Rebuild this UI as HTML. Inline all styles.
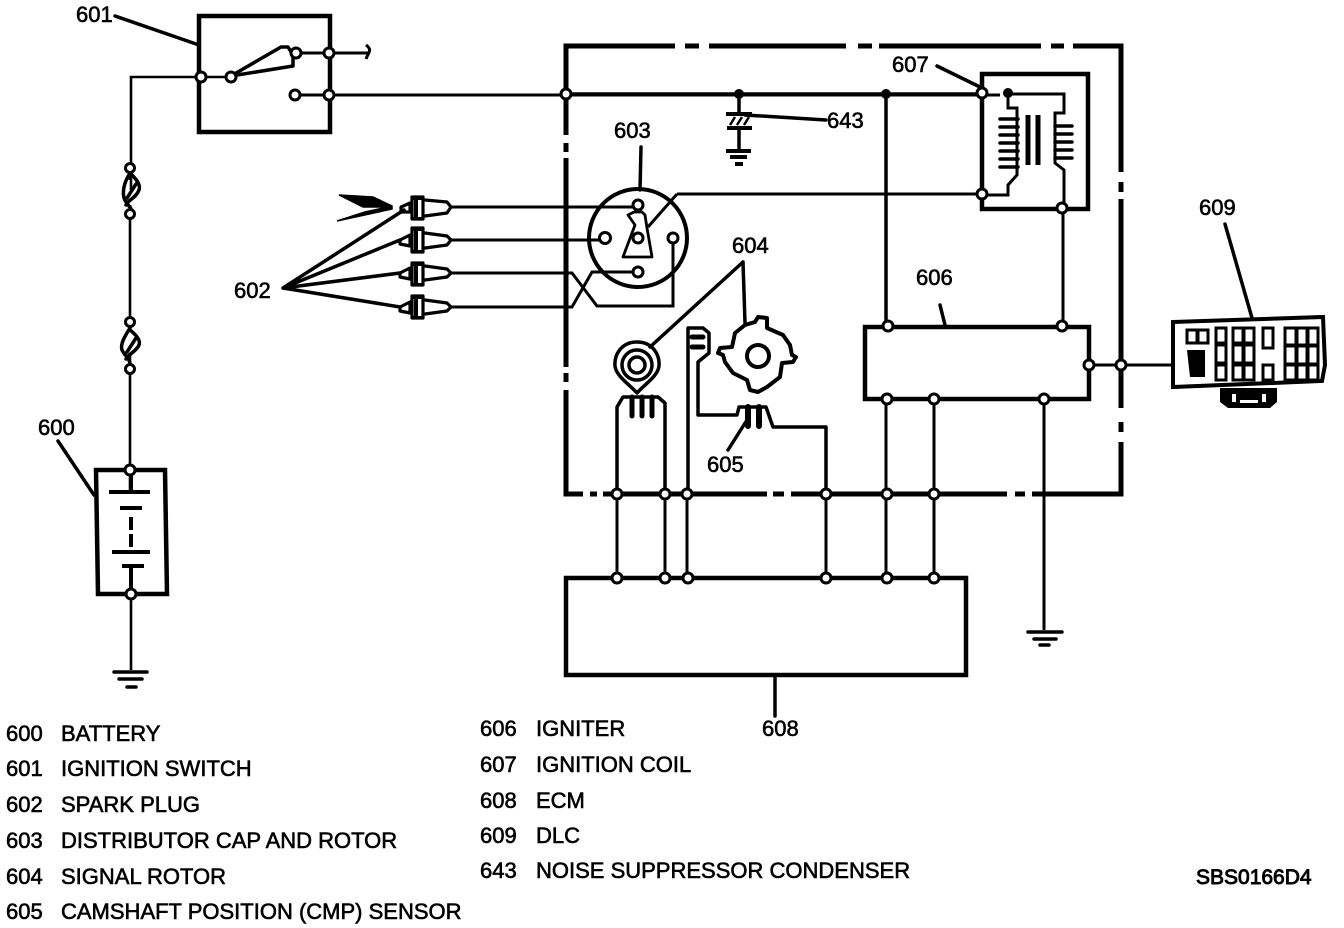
<!DOCTYPE html>
<html><head><meta charset="utf-8"><style>
html,body{margin:0;padding:0;background:#fff;width:1344px;height:928px;overflow:hidden}
svg{display:block}
text{font-family:"Liberation Sans",sans-serif;font-size:22px;fill:#000;stroke:#000;stroke-width:.6px}
.l{fill:none;stroke:#000;stroke-width:3;stroke-linecap:round;stroke-linejoin:round}
.t{fill:none;stroke:#000;stroke-width:2.6}
.b{fill:none;stroke:#000;stroke-width:4.5;stroke-linejoin:miter}
.o{fill:#fff;stroke:#000;stroke-width:3}
.d{fill:#000}
.c{fill:#fff;stroke:#000;stroke-width:3}
</style></head><body>
<svg width="1344" height="928" viewBox="0 0 1344 928" xmlns="http://www.w3.org/2000/svg">
<!-- leaders -->
<g class="l" style="stroke-width:3.5">
<path d="M115 16L199 45M58 441L94 495M937 66L982 88M1225 224L1252 318M641 147L640 190M826 120L745 115M775 678V716M945 325L940 305"/>
<path d="M283 288L404 210M283 288L400 240M283 288L400 273M283 288L400 307"/>
<path d="M743 262L650 347M743 262L745 323M728 450L747 420"/>
</g>
<!-- spark arrow -->
<path d="M339 195L373 197L392 206L392 209L337 221L365 212L388 207L363 207Z" fill="#000" stroke="#000" stroke-width="1.5"/>
<!-- ignition switch -->
<rect class="b" x="199" y="16" width="131" height="116"/>
<g class="t">
<path d="M131 190V77H200H231"/>
<path d="M296 53H368M295 95H1000" style="stroke-width:3"/><path d="M366 45C373 50 368 53 366 59" style="stroke-width:3"/>
</g>
<path class="l" style="stroke-width:3.5" d="M231 76L281 47L288 47L293 55L293 66L231 76"/>
<!-- fuses and battery wires -->
<g class="t">
<path d="M130 168V180M130 205V330M130 355V470M130 470V492M131 593V670"/>
</g>
<path class="l" style="stroke-width:3.5" d="M131 172C125 180 122 190 124 198C126 204 130 206 131 209M131 174C135 178 141 184 139 190C136 198 128 200 126 205M127 198L136 184"/>
<path class="l" style="stroke-width:3.5" d="M130 328C125 336 120 344 122 350C125 356 129 358 130 363M130 330C135 334 141 340 139 345C136 352 128 354 126 359M127 352L136 338"/>
<!-- battery -->
<path class="b" d="M96 470H165L167 594H98Z"/>
<g class="l" style="stroke-width:4;stroke-linecap:butt">
<path d="M109 492H150M120 508H142M131 517V530M131 534V547M112 552H150M122 566H144M131 566V593M131 470V492"/>
</g>
<path class="l" style="stroke-width:3.5" d="M114 672H147M119 679H142M127 687H136"/>
<!-- large dash-dot enclosure -->
<g class="b" style="stroke-width:5">
<path d="M566 135V46H675M685 46H699M709 46H846M858 46H872M879 46H1041M1051 46H1064M1073 46H1121V172M1121 182V192M1121 199V408M1121 422V432M1121 442V494H1032M1025 494H1015M1007 494H791M784 494H773M767 494H603M597 494H590M583 494H566V390M566 382V373M566 367V158M566 152V143"/>
</g>
<!-- main bus -->
<g class="t" style="stroke-width:3.5">
<path d="M566 94H985M886 94V327"/>
<path d="M739 94V115M739 128V152"/>
</g>
<!-- condenser -->
<path class="l" style="stroke-linecap:butt;stroke-width:4" d="M726 114H752M727 128H752M726 151H751M730 157H747M735 164H743"/>
<path class="l" style="stroke-width:2.5;stroke-linecap:butt" d="M730 125L735 117M737 125L742 117M744 125L749 117"/>
<!-- coil box -->
<path class="b" d="M982 74H1088V209H982Z"/>
<g class="t" style="stroke-width:3">
<path d="M1008 94H1064V113H1055V163L1064 170V210M1008 94V108H1017V175L1008 185V195H985"/>
<path d="M677 194H985"/>
</g>
<g class="l" style="stroke-width:3.5">
<path d="M1000 119H1018M1000 127H1018M1000 135H1018M1000 143H1018M1000 151H1018M1000 159H1018M1000 167H1018"/>
<path d="M1055 126H1072M1055 134H1072M1055 142H1072M1055 150H1072M1055 158H1072"/>
<path d="M1028 115V165M1038 115V165" style="stroke-width:5;stroke-linecap:butt"/>
</g>
<!-- coil to igniter -->
<path class="t" style="stroke-width:3" d="M1063 210V327"/>
<!-- distributor -->
<circle cx="638" cy="238" r="49" class="l" style="stroke-width:4"/>
<g class="t" style="stroke-width:3">
<path d="M450 207H638M450 240H602M450 273H572L597 306H673V238M450 307H572L592 272H638"/>
<path d="M648 227L677 194"/>
</g>
<path class="l" style="stroke-width:2.8" d="M634 212L628 215L635 225L623 257L652 257L647 228L645 215L642 212Z"/>
<!-- plugs -->
<g class="l" style="stroke-width:3.2">
<path d="M401 207L410 203V212L401 212ZM412 197H423V219H412ZM425 200L447 202L451 207L447 213L425 216" />
<path d="M400 240L410 235V246L400 244ZM412 228H423V252H412ZM425 233L447 236L451 240L447 245L425 248"/>
<path d="M400 273L410 268V279L400 277ZM412 263H423V285H412ZM425 266L447 269L451 273L447 277L425 280"/>
<path d="M400 307L410 302V313L400 311ZM412 296H423V318H412ZM425 300L447 303L451 307L447 311L425 314"/>
</g>
<path d="M412 199H423V218H412ZM412 230H423V251H412ZM412 265H423V284H412ZM412 298H423V317H412Z" fill="none" stroke="#000" stroke-width="2"/>
<path d="M416 198V218M416 229V251M416 264V284M416 297V317" stroke="#000" stroke-width="4" fill="none"/>
<!-- sensor -->
<g class="l" style="stroke-width:3.5">
<path d="M637 342C652 342 660 354 659 366C658 376 645 384 637 393C629 384 616 376 615 366C614 354 622 342 637 342Z"/>
<circle cx="637" cy="365" r="15"/><circle cx="637" cy="365" r="8"/>
<path d="M617 495V407L623 397H658L665 403V495"/>
<path d="M632 397V416M642 397V416M652 397V416" style="stroke-width:5"/>
<path d="M688 495V328H703L709 333V353L698 362V415H737L739 407H766L773 427H826V495"/>
<path d="M692 337H703M692 347H703" style="stroke-width:5"/>
<path d="M748 407V426M759 407V426" style="stroke-width:6"/>
</g>
<!-- signal rotor -->
<g class="l" style="stroke-width:4">
<path d="M745 325L755 322L758 317L767 318L767 328L783 335L790 345L792 355L796 357L793 362L782 363L780 377L767 387L758 392L750 390L747 380L733 373L725 362L723 355L718 353L720 348L732 347L735 333Z"/>
<circle cx="758" cy="356" r="11"/>
</g>
<!-- igniter -->
<rect class="b" x="865" y="327" width="224" height="72"/>
<!-- ECM -->
<rect class="b" x="566" y="578" width="400" height="97"/>
<!-- bus verticals -->
<g class="t" style="stroke-width:3">
<path d="M617 495V578M665 495V578M687 495V578M826 495V578M886 399V578M934 399V578M1044 399V630M1089 365H1184"/>
</g>
<path class="l" style="stroke-width:3.5" d="M1028 632H1062M1034 639H1056M1040 645H1049"/>
<!-- DLC -->
<path d="M1173 322L1323 317L1325 365L1322 381L1173 387Z" fill="#fff" stroke="#000" stroke-width="4"/>
<g class="c">
<rect x="1187" y="330" width="10" height="13"/><rect x="1198" y="330" width="10" height="13"/>
<rect x="1216" y="328" width="10" height="15"/><rect x="1216" y="345" width="10" height="18"/><rect x="1216" y="365" width="10" height="15"/>
<rect x="1233" y="328" width="10" height="15"/><rect x="1233" y="345" width="10" height="18"/><rect x="1233" y="365" width="10" height="15"/>
<rect x="1244" y="328" width="10" height="15"/><rect x="1244" y="345" width="10" height="18"/><rect x="1244" y="365" width="10" height="15"/>
<rect x="1263" y="328" width="10" height="20"/><rect x="1263" y="365" width="10" height="15"/>
<rect x="1285" y="328" width="11" height="17"/><rect x="1285" y="346" width="11" height="18"/><rect x="1285" y="365" width="11" height="15"/>
<rect x="1297" y="328" width="10" height="17"/><rect x="1297" y="346" width="10" height="18"/><rect x="1297" y="365" width="10" height="15"/>
<rect x="1308" y="328" width="10" height="17"/><rect x="1308" y="346" width="10" height="18"/><rect x="1308" y="365" width="10" height="15"/>
</g>
<path d="M1187 350H1205V377H1190Z" fill="#000"/>
<path d="M1220 388H1277V402L1270 408H1228L1220 402Z" fill="#000"/>
<path d="M1232 394H1236V402H1232ZM1240 400H1258V403H1240ZM1262 394H1266V402H1262Z" fill="#fff"/>
<!-- nodes -->
<g class="o">
<circle cx="201" cy="77" r="5"/><circle cx="231" cy="77" r="5"/><circle cx="296" cy="53" r="5"/><circle cx="329" cy="53" r="5"/><circle cx="295" cy="95" r="5"/><circle cx="329" cy="95" r="5"/>
<circle cx="130" cy="168" r="4.5"/><circle cx="130" cy="214" r="4.5"/><circle cx="130" cy="322" r="4.5"/><circle cx="130" cy="369" r="4.5"/><circle cx="130" cy="470" r="5"/><circle cx="131" cy="594" r="5"/>
<circle cx="566" cy="94" r="5"/><circle cx="982" cy="93" r="5"/><circle cx="982" cy="194" r="5"/><circle cx="1062" cy="208" r="5"/>
<circle cx="638" cy="205" r="5"/><circle cx="605" cy="238" r="5.5"/><circle cx="638" cy="238" r="5"/><circle cx="673" cy="238" r="5"/><circle cx="638" cy="272" r="5"/>
<circle cx="888" cy="326" r="5"/><circle cx="1062" cy="326" r="5"/><circle cx="1089" cy="365" r="5"/><circle cx="1121" cy="365" r="5"/><circle cx="887" cy="399" r="5"/><circle cx="934" cy="399" r="5"/><circle cx="1044" cy="399" r="5"/>
<circle cx="617" cy="494" r="5"/><circle cx="665" cy="494" r="5"/><circle cx="687" cy="494" r="5"/><circle cx="826" cy="494" r="5"/><circle cx="887" cy="494" r="5"/><circle cx="934" cy="494" r="5"/>
<circle cx="617" cy="578" r="5"/><circle cx="665" cy="578" r="5"/><circle cx="688" cy="578" r="5"/><circle cx="826" cy="578" r="5"/><circle cx="887" cy="578" r="5"/><circle cx="934" cy="578" r="5"/>
</g>
<circle class="d" cx="886" cy="94" r="5"/><circle class="d" cx="739" cy="94" r="5"/><circle class="d" cx="1008" cy="93" r="5"/>
<!-- callouts -->
<text x="76" y="22">601</text><text x="38" y="435">600</text><text x="234" y="298">602</text><text x="614" y="138">603</text><text x="732" y="253">604</text><text x="707" y="472">605</text><text x="916" y="285">606</text><text x="892" y="72">607</text><text x="762" y="736">608</text><text x="1199" y="215">609</text><text x="827" y="128">643</text>
<!-- legend -->
<text x="6" y="741">600</text><text x="61" y="741">BATTERY</text>
<text x="6" y="776">601</text><text x="61" y="776">IGNITION SWITCH</text>
<text x="6" y="812">602</text><text x="61" y="812">SPARK PLUG</text>
<text x="6" y="848">603</text><text x="61" y="848">DISTRIBUTOR CAP AND ROTOR</text>
<text x="6" y="884">604</text><text x="61" y="884">SIGNAL ROTOR</text>
<text x="6" y="919">605</text><text x="61" y="919">CAMSHAFT POSITION (CMP) SENSOR</text>
<text x="480" y="736">606</text><text x="536" y="736">IGNITER</text>
<text x="480" y="772">607</text><text x="536" y="772">IGNITION COIL</text>
<text x="480" y="808">608</text><text x="536" y="808">ECM</text>
<text x="480" y="843">609</text><text x="536" y="843">DLC</text>
<text x="480" y="878">643</text><text x="536" y="878">NOISE SUPPRESSOR CONDENSER</text>
<text x="1196" y="884" style="font-size:21px;stroke-width:.9px">SBS0166D4</text>
</svg>
</body></html>
